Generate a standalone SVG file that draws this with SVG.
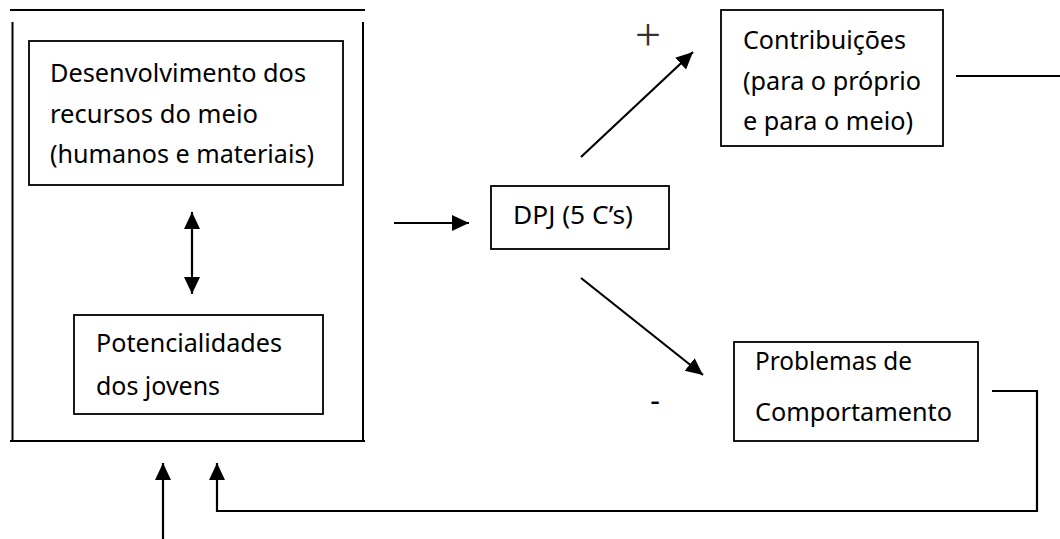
<svg xmlns="http://www.w3.org/2000/svg" width="1060" height="539" viewBox="0 0 1060 539">
<style>
.bg{fill:#ffffff}
.box{fill:none;stroke:#000;stroke-width:1.8}
.frame{fill:none;stroke:#000;stroke-width:2}
.con{fill:none;stroke:#000;stroke-width:2.2}
.t{font-family:"Noto Sans","Open Sans","Liberation Sans",sans-serif;font-size:25px;fill:#000}
.sign{font-family:"Liberation Serif","DejaVu Serif",serif;font-size:46px;fill:#333}
.minus{font-family:"Noto Sans","Liberation Sans",sans-serif;font-size:30px;fill:#000}
</style>
<defs>
<marker id="ah" markerUnits="userSpaceOnUse" markerWidth="18" markerHeight="17" refX="17" refY="8" orient="auto-start-reverse" viewBox="0 0 18 17">
<path d="M0,0 L17,8 L0,16 z" fill="#000"/>
</marker>
</defs>
<rect class="bg" x="0" y="0" width="1060" height="539"/>
<g id="outer-frame">
<line class="frame" x1="10" y1="10" x2="365" y2="10"/>
<line class="frame" x1="12.5" y1="22" x2="12.5" y2="441"/>
<line class="frame" x1="363" y1="22" x2="363" y2="441"/>
<line class="frame" x1="10" y1="441" x2="365" y2="441"/>
</g>
<g id="node-recursos">
<rect class="box" x="29" y="41" width="314" height="144"/>
<text class="t" x="50" y="82" textLength="256" lengthAdjust="spacingAndGlyphs">Desenvolvimento dos</text>
<text class="t" x="50" y="123" textLength="208" lengthAdjust="spacingAndGlyphs">recursos do meio</text>
<text class="t" x="50" y="163" textLength="264" lengthAdjust="spacingAndGlyphs">(humanos e materiais)</text>
</g>
<g id="node-potencialidades">
<rect class="box" x="74" y="315" width="249" height="99"/>
<text class="t" x="96" y="352" textLength="186" lengthAdjust="spacingAndGlyphs">Potencialidades</text>
<text class="t" x="96" y="395" textLength="124" lengthAdjust="spacingAndGlyphs">dos jovens</text>
</g>
<g id="node-dpj">
<rect class="box" x="491" y="186" width="178" height="63"/>
<text class="t" x="513" y="224" textLength="120" lengthAdjust="spacingAndGlyphs">DPJ (5 C’s)</text>
</g>
<g id="node-contribuicoes">
<rect class="box" x="721" y="10" width="222" height="136"/>
<text class="t" x="743" y="49" textLength="163" lengthAdjust="spacingAndGlyphs">Contribuições</text>
<text class="t" x="743" y="90" textLength="178" lengthAdjust="spacingAndGlyphs">(para o próprio</text>
<text class="t" x="743" y="130" textLength="170" lengthAdjust="spacingAndGlyphs">e para o meio)</text>
</g>
<g id="node-problemas">
<rect class="box" x="734" y="342" width="244" height="99"/>
<text class="t" x="755" y="370" textLength="157" lengthAdjust="spacingAndGlyphs">Problemas de</text>
<text class="t" x="755" y="421" textLength="197" lengthAdjust="spacingAndGlyphs">Comportamento</text>
</g>
<g id="connectors">
<line class="con" x1="192" y1="212" x2="192" y2="294" marker-start="url(#ah)" marker-end="url(#ah)"/>
<line class="con" x1="394" y1="223" x2="469" y2="223" marker-end="url(#ah)"/>
<line class="con" x1="581" y1="157" x2="693" y2="52" marker-end="url(#ah)"/>
<line class="con" x1="581" y1="278" x2="703" y2="375" marker-end="url(#ah)"/>
<line class="con" x1="956" y1="76" x2="1060" y2="76"/>
<polyline class="con" points="992,391 1037,391 1037,511 217,511 217,463" marker-end="url(#ah)"/>
<line class="con" x1="163" y1="539" x2="163" y2="463" marker-end="url(#ah)"/>
<text class="sign" x="648" y="50" text-anchor="middle">+</text>
<text class="minus" x="655" y="411" text-anchor="middle">-</text>
</g>
</svg>
